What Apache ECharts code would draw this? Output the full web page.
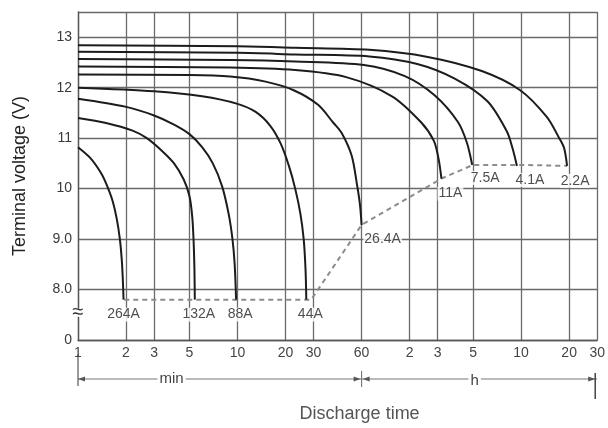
<!DOCTYPE html>
<html><head><meta charset="utf-8">
<script src="https://cdn.jsdelivr.net/npm/echarts@6/dist/echarts.min.js"></script>
<style>html,body{margin:0;padding:0;background:#fff}#c{width:608px;height:428px}</style>
</head><body><div id="c"></div>
<script>
// ---- data (time in minutes, voltage in V) ----
const xTickValues = [1,2,3,5,10,20,30,60,120,180,300,600,1200,1800];
const xTickLabels = ['1','2','3','5','10','20','30','60','2','3','5','10','20','30'];
const yTickValues = [7,8,9,10,11,12,13];
const yTickLabels = ['0','8.0','9.0','10','11','12','13'];
const currents = ['264A','132A','88A','44A','26.4A','11A','7.5A','4.1A','2.2A'];

const c264 = [[1,10.82],[1.2,10.6],[1.4,10.3],[1.52,10.06],[1.65,9.75],[1.75,9.4],[1.83,9.0],[1.88,8.6],[1.91,8.2],[1.93,7.8]];
const c132 = [[1,11.4],[1.5,11.3],[2.2,11.15],[2.7,11.0],[3.3,10.77],[4,10.5],[4.6,10.18],[5.0,9.85],[5.2,9.45],[5.3,9.0],[5.37,8.4],[5.4,7.8]];
const c88  = [[1,11.78],[2,11.62],[3,11.45],[4,11.27],[5,11.08],[6,10.82],[7,10.5],[8,10.05],[8.8,9.5],[9.3,9.0],[9.6,8.5],[9.8,7.8]];
const c44  = [[1,12.0],[3,11.93],[6,11.83],[10,11.68],[13,11.52],[16,11.25],[18.6,10.9],[21,10.45],[23,10.0],[24.8,9.5],[26,9.0],[26.7,8.4],[27,7.8]];
const c26  = [[1,12.26],[5,12.25],[9,12.22],[15,12.12],[22.5,11.95],[32,11.66],[40,11.3],[45,11.1],[52,10.65],[56,10.1],[58.5,9.7],[60,9.28]];
const c11  = [[1,12.42],[9,12.4],[23,12.35],[48,12.21],[93,11.83],[142,11.31],[170,10.95],[182,10.6],[190,10.2]];
const c75  = [[1,12.57],[9,12.55],[23,12.52],[62,12.45],[112,12.23],[172,11.85],[241,11.32],[275,10.9],[296,10.47]];
const c41  = [[1,12.71],[10,12.69],[23,12.66],[67,12.62],[134,12.47],[230,12.18],[369,11.73],[487,11.14],[530,10.8],[565,10.45]];
const c22  = [[1,12.84],[10,12.82],[23,12.79],[67,12.75],[156,12.61],[340,12.33],[592,11.95],[869,11.42],[1040,11.0],[1117,10.8],[1165,10.45]];
const cutoff = [[1.95,7.8],[29,7.8],[60,9.28],[190,10.2],[300,10.47],[600,10.47],[1165,10.45]];

// ---- styles ----
const curves = [c264,c132,c88,c44,c26,c11,c75,c41,c22];
const labelOffsets = [[0,15],[4,15],[4,15],[4,15],[21,14],[9,15],[13,13],[13,14],[8,15]];
const FONT = 'Liberation Sans, Arial, Helvetica, sans-serif';

function xLabel(v){
  for (let i=0;i<xTickValues.length;i++){ if (Math.abs(Math.log(v/xTickValues[i]))<1e-6) return xTickLabels[i]; }
  return '';
}
function yLabel(v){
  for (let i=0;i<yTickValues.length;i++){ if (Math.abs(v-yTickValues[i])<1e-6) return yTickLabels[i]; }
  return '';
}

const series = curves.map((d,i)=>({
  name: currents[i], type:'line', data:d, showSymbol:false, smooth:0.3,
  lineStyle:{color:'#1c1c1c', width:2}, z:3, silent:true
}));
series.unshift({
  name:'cutoff', type:'line', data:cutoff, showSymbol:false,
  lineStyle:{color:'#8c8c8c', width:2, type:[5,4]}, z:2, silent:true
});
series.push({
  name:'labels', type:'scatter', symbolSize:0, z:5, silent:true,
  data: curves.map((d,i)=>({
    value: d[d.length-1],
    label:{show:true, position:'inside', offset:labelOffsets[i], formatter: currents[i],
      fontSize:14, fontFamily:FONT, color:'#222', backgroundColor:'#fff', padding:[0,1]}
  }))
});

const option = {
  animation:false,
  backgroundColor:'#fff',
  grid:{left:78, right:8, top:12, bottom:88},
  xAxis:{
    type:'log', logBase:10, min:1, max:1800,
    axisLine:{show:true, lineStyle:{color:'#555', width:1.3}},
    axisTick:{show:false, customValues:xTickValues},
    axisLabel:{customValues:xTickValues, formatter:xLabel, fontSize:14, fontFamily:FONT, color:'#444', margin:6},
    splitLine:{show:true, lineStyle:{color:'#6a6a6a', width:1.3}},
    minorSplitLine:{show:false}
  },
  yAxis:{
    type:'value', min:7, max:13.5, interval:1,
    axisLine:{show:true, lineStyle:{color:'#555', width:1.3}},
    axisTick:{show:false},
    axisLabel:{formatter:yLabel, fontSize:14, fontFamily:FONT, color:'#3a3a3a', margin:6, showMaxLabel:false},
    splitLine:{show:true, lineStyle:{color:'#6a6a6a', width:1.3}}
  },
  series
};

const chart = echarts.init(document.getElementById('c'));
chart.setOption(option);

const px = v => chart.convertToPixel({xAxisIndex:0}, v);
const py = v => chart.convertToPixel({yAxisIndex:0}, v);
const x1 = px(1), x60 = px(60), xEnd = px(1800);
const y0 = py(7), y8 = py(8);
const yb = y0 + 39;
const lc = '#777';
function tri(x, y, dir){ return {type:'polygon', shape:{points:[[x,y],[x-dir*7,y-2.5],[x-dir*7,y+2.5]]}, style:{fill:'#555'}}; }
const yBreak = y8 + 0.46*(y0-y8);

chart.setOption({graphic:[
  {type:'line', shape:{x1:x1,y1:y0+14,x2:x1,y2:y0+46}, style:{stroke:'#555', lineWidth:1.2}},
  {type:'line', shape:{x1:x1,y1:yb,x2:x60,y2:yb}, style:{stroke:lc, lineWidth:1}},
  {type:'line', shape:{x1:x60,y1:yb,x2:xEnd,y2:yb}, style:{stroke:lc, lineWidth:1}},
  {type:'line', shape:{x1:x60,y1:yb-8,x2:x60,y2:yb+8}, style:{stroke:'#666', lineWidth:1}},
  {type:'line', shape:{x1:xEnd-2,y1:yb-6,x2:xEnd-2,y2:yb+20}, style:{stroke:'#444', lineWidth:1.5}},
  tri(x1,yb,-1), tri(x60-1,yb,1), tri(x60+1,yb,-1), tri(xEnd-2,yb,1),
  {type:'text', x:x1+0.33*(x60-x1), y:yb, style:{text:'min', font:'15px '+FONT, fill:'#444', align:'center', verticalAlign:'middle', backgroundColor:'#fff', padding:[0,2]}},
  {type:'text', x:x60+0.48*(xEnd-x60), y:yb+2, style:{text:'h', font:'15px '+FONT, fill:'#444', align:'center', verticalAlign:'middle', backgroundColor:'#fff', padding:[0,2]}},
  {type:'text', x:x60-2, y:yb+35, style:{text:'Discharge time', font:'18px '+FONT, fill:'#555', align:'center', verticalAlign:'middle'}},
  {type:'text', x:20, y:(y0+py(13.5))/2, rotation:Math.PI/2, style:{text:'Terminal voltage (V)', font:'18px '+FONT, fill:'#222', align:'center', verticalAlign:'middle'}},
  {type:'rect', shape:{x:x1-7,y:yBreak-4,width:14,height:8}, style:{fill:'#fff'}, z:10},
  {type:'text', x:x1, y:yBreak, style:{text:'≈', font:'20px '+FONT, fill:'#333', align:'center', verticalAlign:'middle'}, z:11}
]});
</script></body></html>
